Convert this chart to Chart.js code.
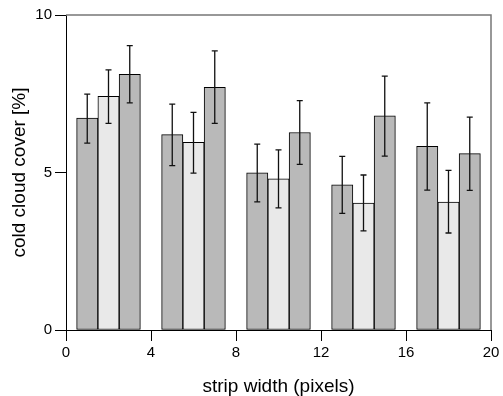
<!DOCTYPE html>
<html>
<head>
<meta charset="utf-8">
<script src="https://cdn.jsdelivr.net/npm/chart.js@4/dist/chart.umd.min.js"></script>
<style>
  html, body { margin: 0; padding: 0; background: #fff; }
</style>
</head>
<body>
<canvas id="cloudChart" width="503" height="396"></canvas>
<script>
// strip widths (bar centres) for the three series
const stripA = [1, 5, 9, 13, 17];
const stripB = [2, 6, 10, 14, 18];
const stripC = [3, 7, 11, 15, 19];

// cold cloud cover [%]
const coverA = [6.73, 6.20, 4.99, 4.61, 5.83];
const coverB = [7.42, 5.96, 4.80, 4.03, 4.06];
const coverC = [8.12, 7.70, 6.27, 6.80, 5.60];

// error bar ends
const highA = [7.49, 7.17, 5.90, 5.51, 7.21];
const lowA  = [5.93, 5.22, 4.07, 3.70, 4.44];
const highB = [8.26, 6.91, 5.72, 4.92, 5.07];
const lowB  = [6.56, 4.98, 3.88, 3.15, 3.08];
const highC = [9.03, 8.86, 7.28, 8.06, 6.76];
const lowC  = [7.21, 6.56, 5.26, 5.52, 4.43];

const xTicks = [0, 4, 8, 12, 16, 20];
const yTicks = [0, 5, 10];

const DARK = "#b9b9b9";
const LIGHT = "#e9e9e9";
const FONT = "'Liberation Sans', Arial, sans-serif";

function points(xs, ys) {
  return xs.map((x, i) => ({ x: x, y: ys[i] }));
}

// ERROR BARS + TOP/RIGHT FRAME
const errorBars = {
  id: "errorBars",
  afterDatasetsDraw(chart) {
    const { ctx, scales: { x, y }, chartArea } = chart;
    const sets = [
      [stripA, highA, lowA],
      [stripB, highB, lowB],
      [stripC, highC, lowC],
    ];
    ctx.save();
    ctx.strokeStyle = "#111";
    ctx.lineWidth = 1.3;
    sets.forEach(([xs, hi, lo]) => {
      xs.forEach((v, i) => {
        const px = x.getPixelForValue(v);
        const pHi = y.getPixelForValue(hi[i]);
        const pLo = y.getPixelForValue(lo[i]);
        ctx.beginPath();
        ctx.moveTo(px, pHi);
        ctx.lineTo(px, pLo);
        ctx.moveTo(px - 3, pHi);
        ctx.lineTo(px + 3, pHi);
        ctx.moveTo(px - 3, pLo);
        ctx.lineTo(px + 3, pLo);
        ctx.stroke();
      });
    });

    // frame on top and right
    ctx.strokeStyle = "#777";
    ctx.lineWidth = 1.5;
    ctx.beginPath();
    ctx.moveTo(chartArea.left, chartArea.top);
    ctx.lineTo(chartArea.right, chartArea.top);
    ctx.lineTo(chartArea.right, chartArea.bottom);
    ctx.stroke();
    ctx.restore();
  },
};

const ctx = document.getElementById("cloudChart").getContext("2d");
const chart = new Chart(ctx, {
  type: "bar",
  data: {
    datasets: [
      { data: points(stripA, coverA), backgroundColor: DARK },
      { data: points(stripB, coverB), backgroundColor: LIGHT },
      { data: points(stripC, coverC), backgroundColor: DARK },
    ],
  },
  options: {
    responsive: false,
    animation: false,
    devicePixelRatio: 1,
    layout: {
      padding: { top: 15, right: 12, left: 0, bottom: 0 },
    },
    datasets: {
      bar: {
        grouped: false,
        barPercentage: 1,
        categoryPercentage: 1,
        borderColor: "#000",
        borderWidth: 1,
        borderSkipped: false,
      },
    },
    plugins: {
      legend: { display: false },
      tooltip: { enabled: false },
    },
    scales: {
      x: {
        type: "linear",
        min: 0,
        max: 20,
        offset: false,
        afterFit: (scale) => { scale.height = 66; },
        afterBuildTicks: (scale) => {
          scale.ticks = xTicks.map((v) => ({ value: v }));
        },
        grid: {
          offset: false,
          drawOnChartArea: false,
          drawTicks: true,
          tickLength: 11,
          color: "#000",
        },
        border: { display: true, color: "#000", width: 1 },
        ticks: {
          color: "#000",
          padding: 3,
          maxRotation: 0,
          font: { family: FONT, size: 15 },
        },
        title: {
          display: true,
          text: "strip width (pixels)",
          color: "#000",
          padding: { top: 0, bottom: 0 },
          font: { family: FONT, size: 19, lineHeight: 1 },
        },
      },
      y: {
        min: 0,
        max: 10,
        afterFit: (scale) => { scale.width = 66; },
        afterBuildTicks: (scale) => {
          scale.ticks = yTicks.map((v) => ({ value: v }));
        },
        grid: {
          drawOnChartArea: false,
          drawTicks: true,
          tickLength: 11,
          color: "#000",
        },
        border: { display: true, color: "#000", width: 1 },
        ticks: {
          color: "#000",
          padding: 3,
          font: { family: FONT, size: 15 },
        },
        title: {
          display: true,
          text: "cold cloud cover [%]",
          color: "#000",
          padding: { top: 10, bottom: 0 },
          font: { family: FONT, size: 19, lineHeight: 1 },
        },
      },
    },
  },
  plugins: [errorBars],
});
</script>
</body>
</html>
